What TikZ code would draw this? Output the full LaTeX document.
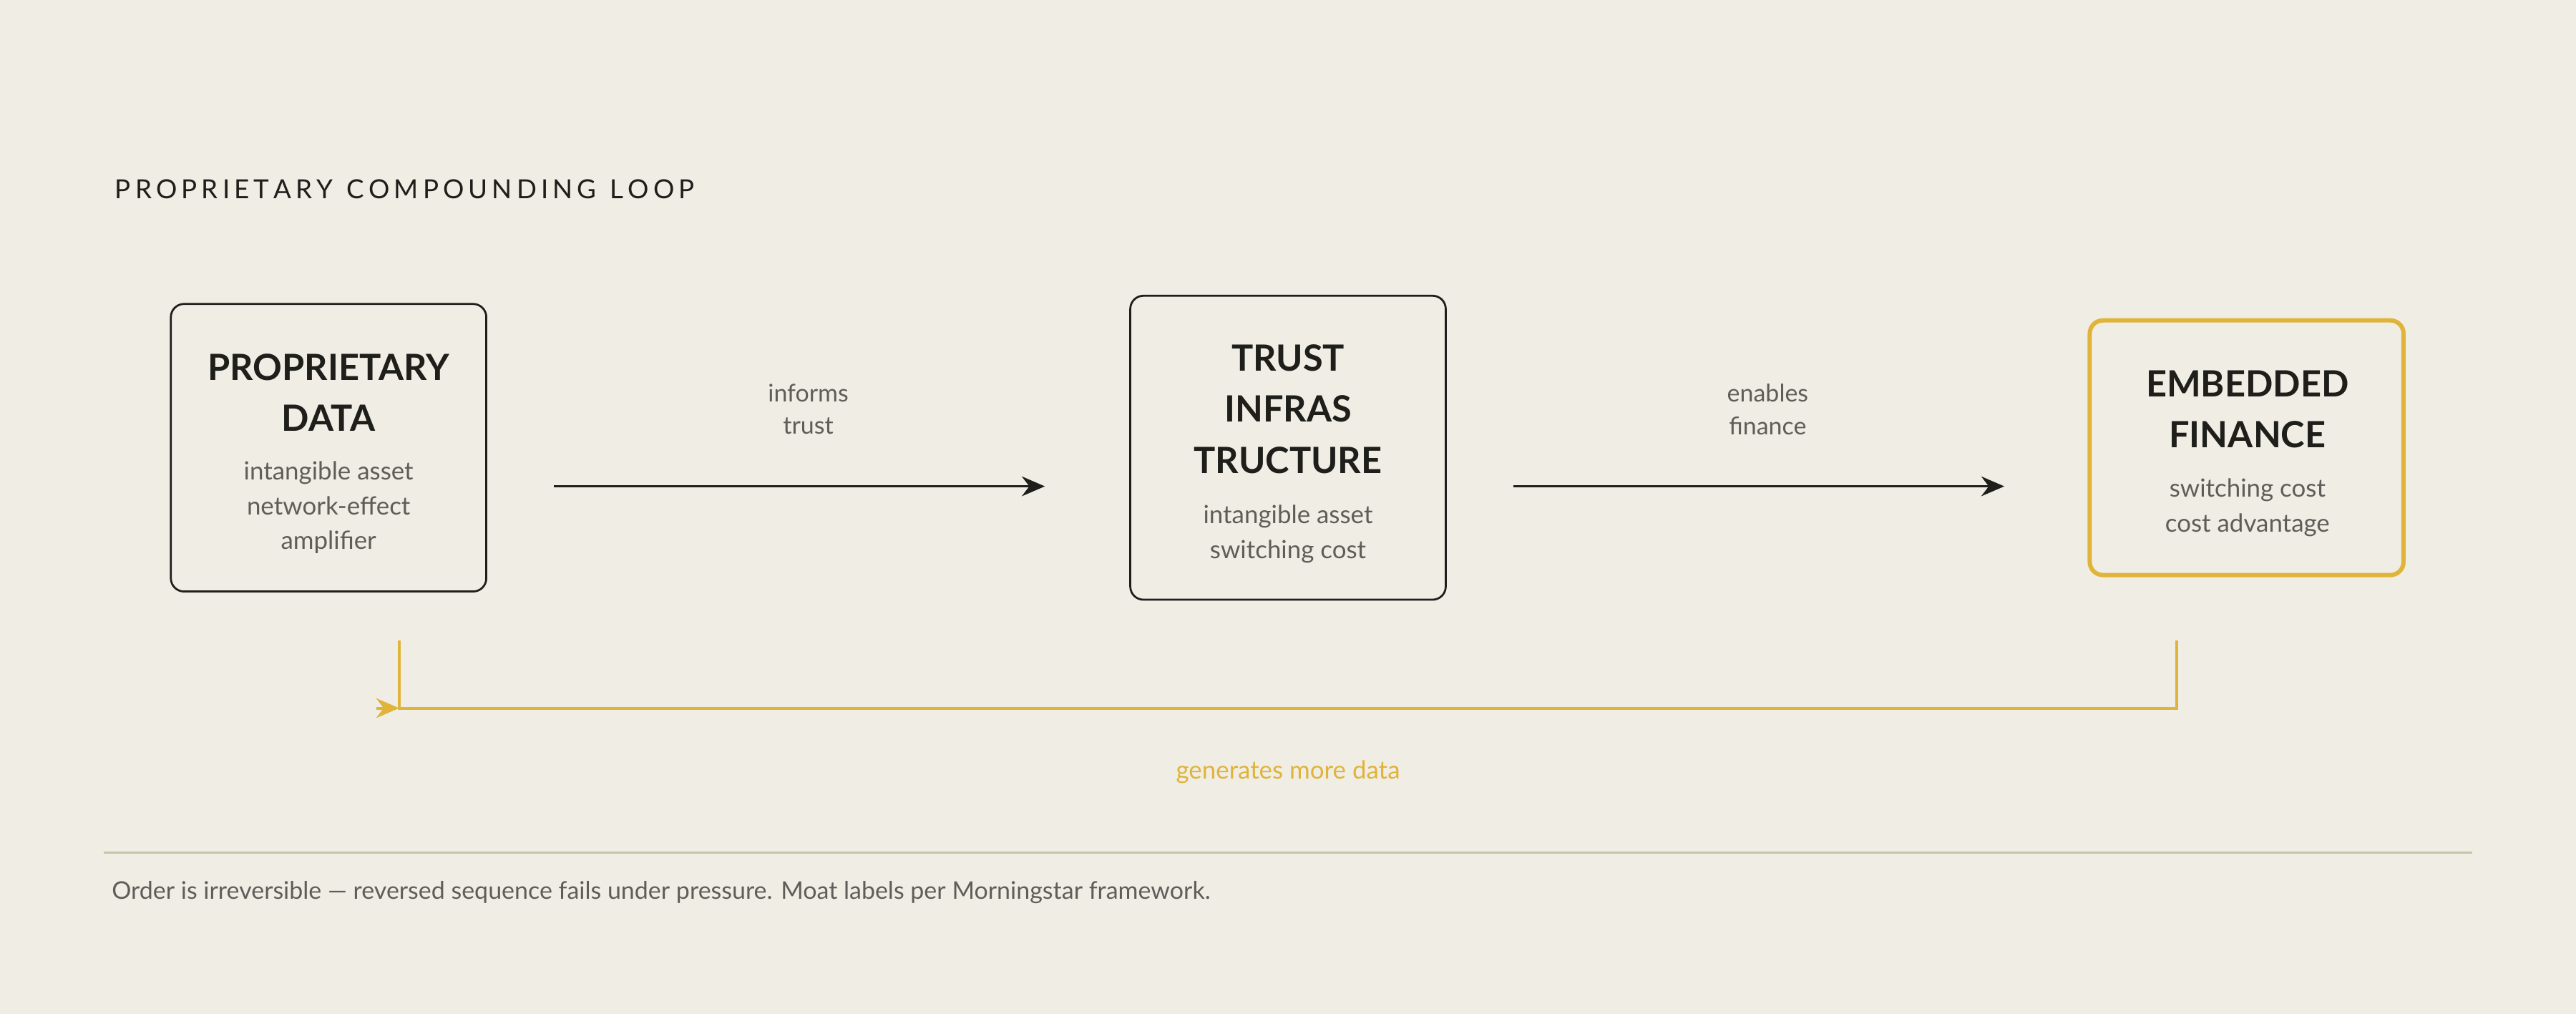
\documentclass[tikz,border=0pt]{standalone}
\usepackage{fontspec}
\setmainfont{Lato}
\usetikzlibrary{arrows.meta}
\definecolor{bg}{HTML}{F0EDE5}
\definecolor{gold}{HTML}{E0B43A}
\definecolor{ink}{HTML}{1E1E1A}
\definecolor{mute}{HTML}{5E5E58}
\definecolor{rule}{HTML}{C8C4A8}
\begin{document}
\begin{tikzpicture}[x=0.5pt,y=-0.5pt,
  box/.style={draw=ink,line width=0.6pt,rounded corners=4pt,inner sep=0},
  ttl/.style={font=\fontsize{11}{15.5}\selectfont\bfseries,text=ink,align=center},
  sub/.style={font=\fontsize{7.6}{10.6}\selectfont,text=mute,align=center},
  lbl/.style={font=\fontsize{7.4}{10}\selectfont,text=mute,align=center},
  arr/.style={draw=ink,line width=0.75pt,-{Stealth[length=7pt,width=6pt]}}]
\fill[bg] (0,0) rectangle (1568,617);
\useasboundingbox (0,0) rectangle (1568,617);
\node[anchor=west,font=\fontsize{8}{10}\selectfont,text=ink] (title) at (63,115) {P\,R\,O\,P\,R\,I\,E\,T\,A\,R\,Y\ \ C\,O\,M\,P\,O\,U\,N\,D\,I\,N\,G\ \ L\,O\,O\,P};
\draw[box] (104,185) rectangle (296,360);
\node (b1) at (200,272.5) {};
\node[ttl] (t1) at (200,239) {PROPRIETARY\\DATA};
\node[sub] (s1) at (200,309) {intangible asset\\network-effect\\amplifier};
\draw[box] (688,180) rectangle (880,365);
\node[ttl] (t2) at (784,249) {TRUST\\INFRAS\\TRUCTURE};
\node[sub] (s2) at (784,325) {intangible asset\\switching cost};
\draw[box,draw=gold,line width=1.3pt] (1272,195) rectangle (1463,350);
\node[ttl] (t3) at (1368,249) {EMBEDDED\\FINANCE};
\node[sub] (s3) at (1368,309) {switching cost\\cost advantage};
\coordinate (a1s) at (337,296); \coordinate (a1e) at (636,296);
\coordinate (a2s) at (921,296); \coordinate (a2e) at (1220,296);
\draw[arr] (a1s) -- (a1e);
\draw[arr] (a2s) -- (a2e);
\node[lbl] (l1) at (492,249) {informs\\trust};
\node[lbl] (l2) at (1076,249) {enables\\finance};
\coordinate (f1) at (1325,390); \coordinate (f2) at (1325,431);
\coordinate (f3) at (243,431); \coordinate (f4) at (243,390);
\coordinate (fa) at (229,431);
\draw[gold,line width=0.9pt] (f1) -- (f2) -- (f3) -- (f4);
\draw[gold,line width=0.9pt,-{Stealth[length=7pt,width=6pt]}] (fa) -- (f3);
\node[font=\fontsize{7.6}{10}\selectfont,text=gold] (gl) at (784,470) {generates more data};
\coordinate (r1) at (63,519); \coordinate (r2) at (1505,519);
\draw[rule,line width=0.6pt] (r1) -- (r2);
\node[anchor=west,font=\fontsize{7.4}{10}\selectfont,text=mute] (foot) at (61,543) {Order is irreversible — reversed sequence fails under pressure. Moat labels per Morningstar framework.};
\end{tikzpicture}
\end{document}
